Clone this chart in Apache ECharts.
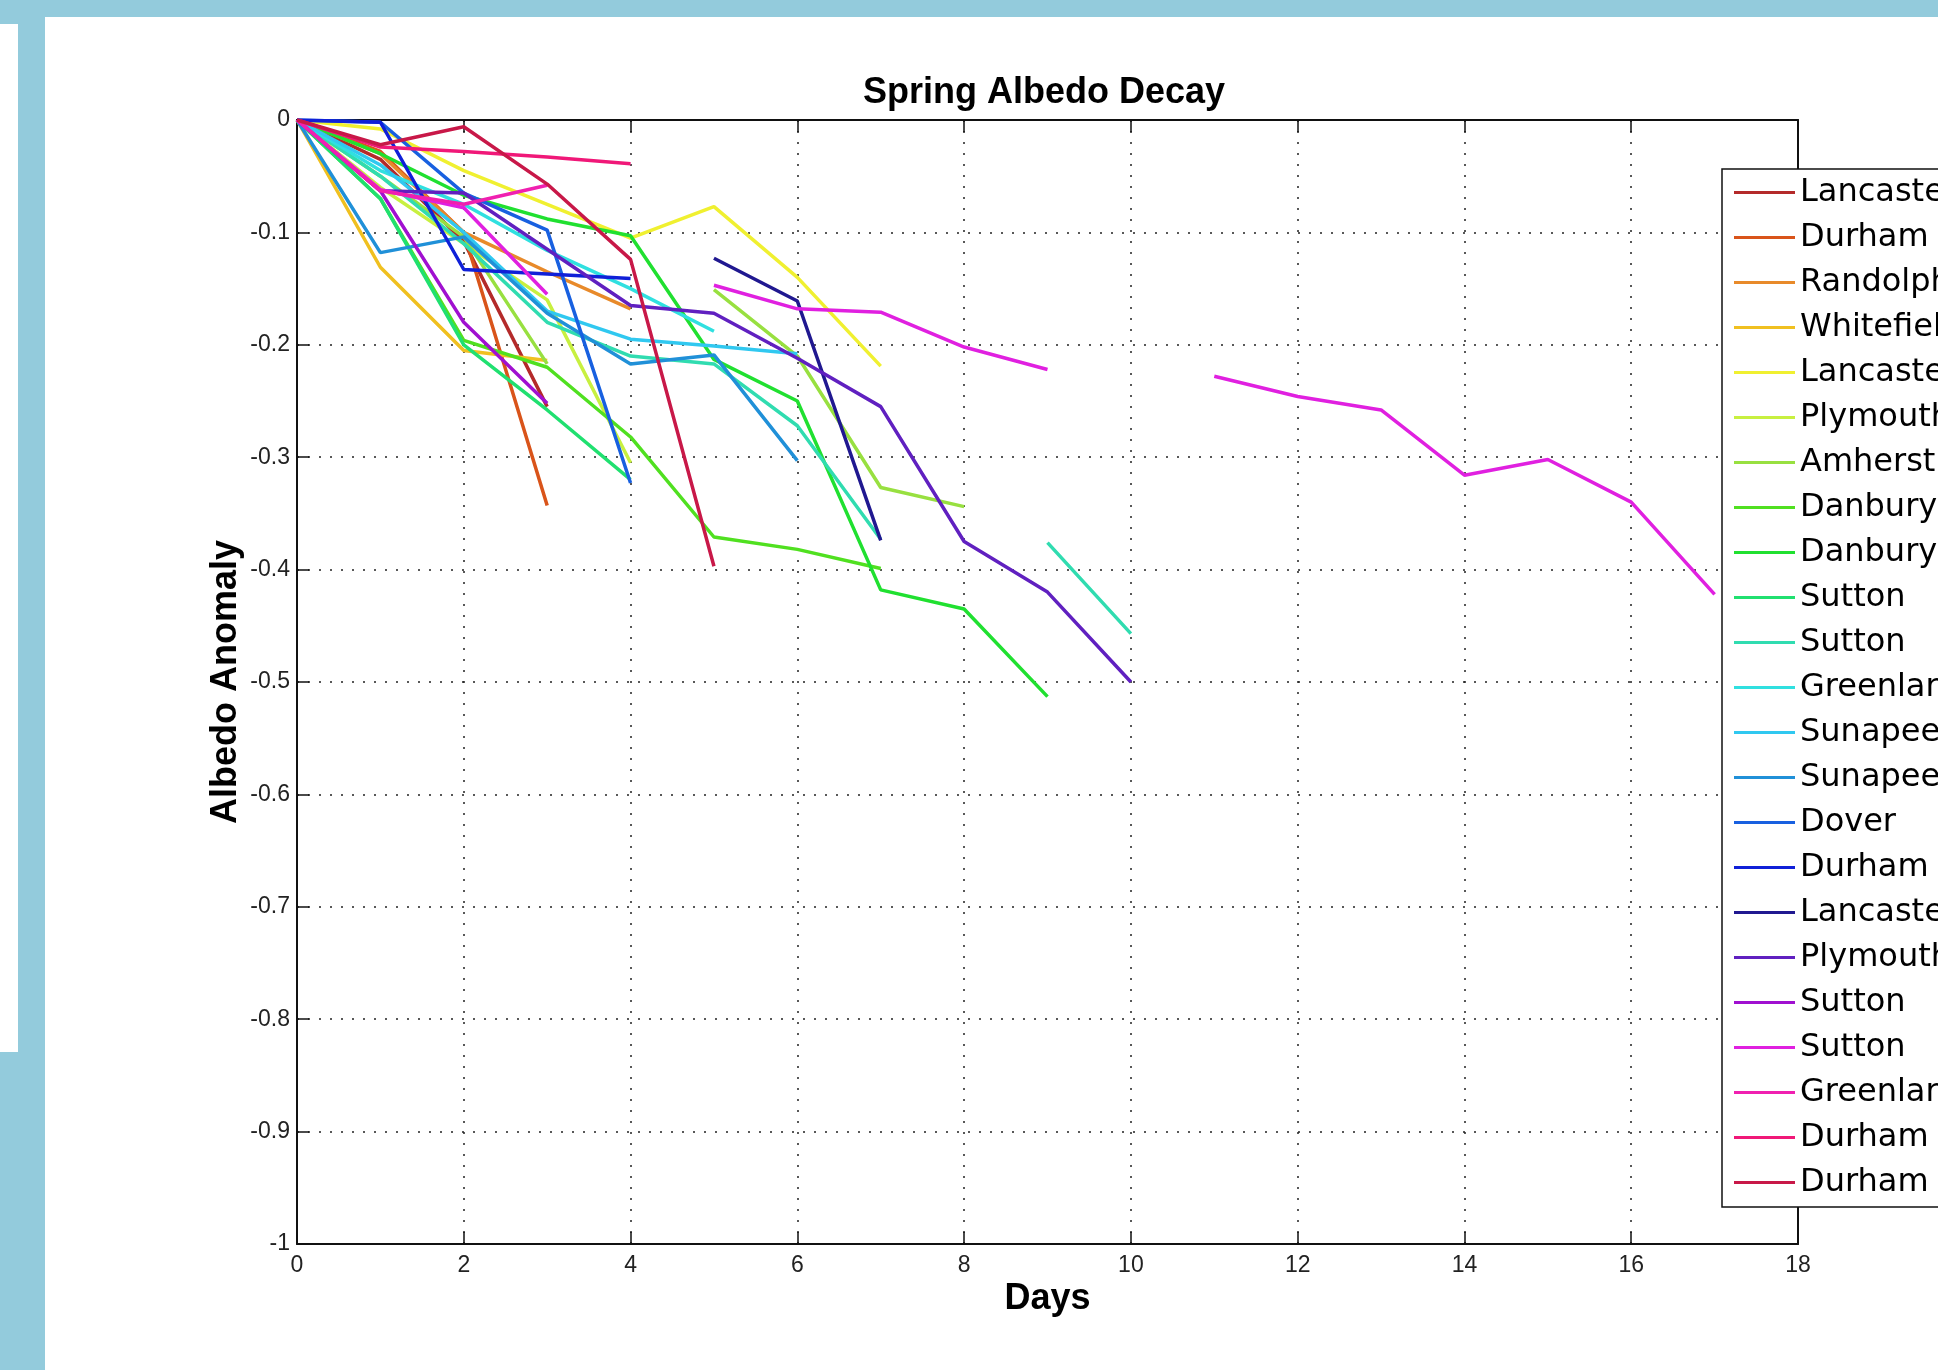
<!DOCTYPE html>
<html>
<head>
<meta charset="utf-8">
<script src="https://cdn.jsdelivr.net/npm/echarts@6/dist/echarts.min.js"></script>
<style>
  html, body { margin: 0; padding: 0; width: 1938px; height: 1370px; overflow: hidden; background: #93cbdc; }
  .sheet { position: absolute; left: 45px; top: 17px; right: 0; bottom: 0; background: #fff; }
  .strip { position: absolute; left: 0; top: 24px; width: 18px; height: 1028px; background: #fff; }
  #chart { position: absolute; left: 0; top: 0; width: 2150px; height: 1370px; }
</style>
</head>
<body>
<div class="sheet"></div>
<div class="strip"></div>
<div id="chart"></div>
<script>
// days on the x axis, one value per day (null = no reading)
var days = [0, 1, 2, 3, 4, 5, 6, 7, 8, 9, 10, 11, 12, 13, 14, 15, 16, 17]
var xTicks = [0, 2, 4, 6, 8, 10, 12, 14, 16, 18]
var yTicks = [0, -0.1, -0.2, -0.3, -0.4, -0.5, -0.6, -0.7, -0.8, -0.9, -1]

var names = ['Lancaster', 'Durham', 'Randolph', 'Whitefield', 'Lancaster', 'Plymouth', 'Amherst',
    'Danbury', 'Danbury', 'Sutton', 'Sutton', 'Greenland', 'Sunapee', 'Sunapee', 'Dover', 'Durham',
    'Lancaster', 'Plymouth', 'Sutton', 'Sutton', 'Greenland', 'Durham', 'Durham']

var lancaster1 = [0, -0.035, -0.108, -0.255]
var durham1 = [0, -0.028, -0.1, -0.343]
var randolph = [0, -0.03, -0.1, -0.135, -0.168]
var whitefield = [0, -0.131, -0.205, -0.214]
var lancaster2 = [0, -0.008, -0.045, -0.075, -0.105, -0.077, -0.14, -0.219]
var plymouth1 = [0, -0.06, -0.11, -0.16, -0.305]
var amherst = [0, -0.05, -0.104, -0.217, null, -0.151, -0.21, -0.327, -0.344]
var danbury1 = [0, -0.07, -0.196, -0.22, -0.282, -0.371, -0.382, -0.399]
var danbury2 = [0, -0.03, -0.067, -0.088, -0.103, -0.213, -0.25, -0.418, -0.435, -0.513]
var sutton1 = [0, -0.07, -0.2, -0.258, -0.32]
var sutton2 = [0, -0.05, -0.11, -0.18, -0.21, -0.217, -0.272, -0.373, null, -0.376, -0.457]
var greenland1 = [0, -0.045, -0.075, -0.116, -0.15, -0.188]
var sunapee1 = [0, -0.04, -0.1, -0.17, -0.195, -0.201, -0.208]
var sunapee2 = [0, -0.118, -0.104, -0.172, -0.217, -0.209, -0.303]
var dover = [0, -0.002, -0.065, -0.098, -0.323]
var durham2 = [0, -0.002, -0.133, -0.137, -0.141]
var lancaster3 = [null, null, null, null, null, -0.123, -0.161, -0.374]
var plymouth2 = [0, -0.063, -0.065, -0.115, -0.165, -0.172, -0.212, -0.255, -0.375, -0.42, -0.5]
var sutton3 = [0, -0.063, -0.18, -0.252]
var sutton4 = [0, -0.062, -0.078, -0.155, null, -0.147, -0.168, -0.171, -0.202, -0.222, null,
    -0.228, -0.246, -0.258, -0.316, -0.302, -0.34, -0.422]
var greenland2 = [0, -0.063, -0.075, -0.058]
var durham3 = [0, -0.024, -0.028, -0.033, -0.039]
var durham4 = [0, -0.022, -0.006, -0.057, -0.124, -0.397]

var values = [lancaster1, durham1, randolph, whitefield, lancaster2, plymouth1, amherst,
    danbury1, danbury2, sutton1, sutton2, greenland1, sunapee1, sunapee2, dover, durham2,
    lancaster3, plymouth2, sutton3, sutton4, greenland2, durham3, durham4]

var colors = ['#b42a2a', '#d9541a', '#e88a2a', '#f0c020', '#f0f030', '#c8f040', '#98e040',
    '#50e020', '#20e030', '#20e070', '#30dcb0', '#30e0e0', '#30c8f0', '#2090d8', '#1860e0',
    '#1020d8', '#201890', '#6020c0', '#a010d0', '#e020e0', '#f020b0', '#f01878', '#c81848']

var dotted = { show: true, lineStyle: { color: '#222', width: 1.5, type: [2, 9] } }
var tick = { show: true, inside: true, length: 12, lineStyle: { color: '#111', width: 1.5 } }
var axisLine = { show: true, onZero: false, lineStyle: { color: '#111', width: 2 } }
var labelFont = { fontFamily: 'Liberation Sans', fontSize: 23, color: '#222' }
var nameFont = { fontFamily: 'Liberation Sans', fontSize: 36, fontWeight: 'bold', color: '#000' }

var series = []
for (let i = 0; i < values.length; i++) {
    series.push({
        // keep repeated station names apart, the legend shows only the part before '#'
        name: names[i] + '#' + i,
        type: 'line',
        symbol: 'none',
        connectNulls: false,
        animation: false,
        lineStyle: { width: 3.5, color: colors[i] },
        itemStyle: { color: colors[i] },
        data: values[i].map(function (v, k) { return [days[k], v === null ? '-' : v] })
    })
}

var option = {
    animation: false,
    color: colors,
    title: {
        text: 'Spring Albedo Decay',
        left: 858,
        top: 70,
        textAlign: 'left',
        textStyle: nameFont
    },
    grid: { left: 297, top: 120, width: 1501, height: 1124, containLabel: false },
    legend: {
        orient: 'vertical',
        left: 1722,
        top: 169,
        padding: [1, 10, 2, 12],
        backgroundColor: '#fff',
        borderColor: '#111',
        borderWidth: 1.5,
        itemWidth: 61,
        itemHeight: 14,
        itemGap: 0,
        data: series.map(function (s, i) {
            return { name: s.name, icon: 'path://M0,0 L61,0 L61,3 L0,3 Z', itemStyle: { color: colors[i] } }
        }),
        formatter: function (name) { return name.split('#')[0] },
        textStyle: { fontFamily: 'DejaVu Sans', fontSize: 32, color: '#000', lineHeight: 45 }
    },
    xAxis: [{
        type: 'value',
        position: 'bottom',
        min: xTicks[0],
        max: xTicks[xTicks.length - 1],
        interval: xTicks[1] - xTicks[0],
        name: 'Days',
        nameLocation: 'middle',
        nameGap: 37,
        nameMoveOverlap: false,
        nameTextStyle: nameFont,
        axisLine: axisLine,
        axisTick: tick,
        axisLabel: Object.assign({ margin: 10 }, labelFont),
        splitLine: dotted
    }, {
        type: 'value',
        position: 'top',
        min: xTicks[0],
        max: xTicks[xTicks.length - 1],
        interval: xTicks[1] - xTicks[0],
        axisLine: axisLine,
        axisTick: tick,
        axisLabel: { show: false },
        splitLine: { show: false }
    }],
    yAxis: [{
        type: 'value',
        position: 'left',
        min: yTicks[yTicks.length - 1],
        max: yTicks[0],
        interval: 0.1,
        name: 'Albedo Anomaly',
        nameLocation: 'middle',
        nameGap: 53,
        nameMoveOverlap: false,
        nameRotate: 90,
        nameTextStyle: nameFont,
        axisLine: axisLine,
        axisTick: tick,
        axisLabel: Object.assign({ margin: 7, formatter: function (v) { return String(Math.round(v * 10) / 10) } }, labelFont),
        splitLine: dotted
    }, {
        type: 'value',
        position: 'right',
        min: yTicks[yTicks.length - 1],
        max: yTicks[0],
        interval: 0.1,
        axisLine: axisLine,
        axisTick: tick,
        axisLabel: { show: false },
        splitLine: { show: false }
    }],
    series: series
}

var chart = echarts.init(document.getElementById('chart'), null, { renderer: 'canvas' })
chart.setOption(option)
</script>
</body>
</html>
